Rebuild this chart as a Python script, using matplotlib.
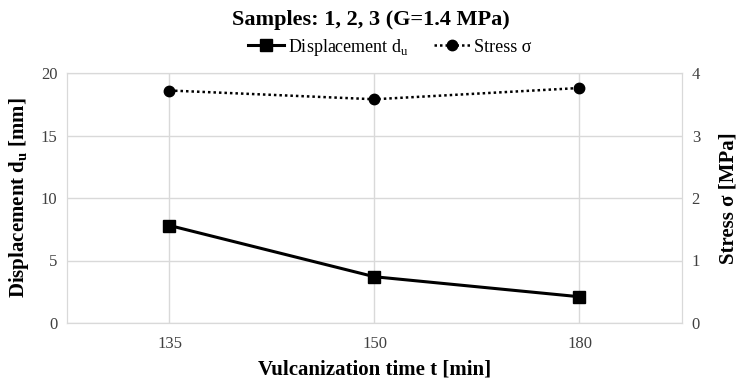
import matplotlib.pyplot as plt

# data
times = ['135', '150', '180']
displacement = [7.8, 3.7, 2.1]
stress = [3.72, 3.58, 3.76]

plt.rcParams['font.family'] = ['Liberation Serif', 'DejaVu Serif']
plt.rcParams['mathtext.fontset'] = 'custom'
plt.rcParams['mathtext.rm'] = 'Liberation Serif'
plt.rcParams['mathtext.bf'] = 'Liberation Serif:bold'

fig = plt.figure(figsize=(7.42, 3.81), dpi=100)
ax = fig.add_axes([67 / 742, 1 - 323 / 381, 615 / 742, 250 / 381])
ax2 = ax.twinx()

x = range(len(times))
l1, = ax.plot(x, displacement, color='black', lw=2.2, marker='s', ms=8,
              label=r'Displacement d$_{\mathrm{u}}$', zorder=3)
l2, = ax2.plot(x, stress, color='black', lw=1.8, ls=(0, (1, 1.2)), marker='o',
               ms=7.5, label='Stress σ', zorder=3)

ax.set_xlim(-0.5, 2.5)
ax.set_ylim(0, 20)
ax.set_yticks([0, 5, 10, 15, 20])
ax2.set_ylim(0, 4)
ax2.set_yticks([0, 1, 2, 3, 4])
ax.set_xticks(list(x))
ax.set_xticklabels(times)

ax.grid(True, color='#d9d9d9', lw=1)
ax.set_axisbelow(True)
for a in (ax, ax2):
    for s in a.spines.values():
        s.set_color('#d9d9d9')
    a.tick_params(length=0, labelsize=12, colors='#404040', pad=7)
ax.tick_params(axis='x', pad=9)

ax.set_xlabel('Vulcanization time t [min]', fontsize=15, fontweight='bold', labelpad=6)
ax.set_ylabel(r'Displacement d$_{\mathbf{u}}$ [mm]', fontsize=15, fontweight='bold', labelpad=7)
ax2.set_ylabel('Stress σ [MPa]', fontsize=15, fontweight='bold', labelpad=13)

fig.suptitle('Samples: 1, 2, 3 (G=1.4 MPa)', fontsize=16, fontweight='bold',
             y=1 - 20 / 381, va='center')
fig.legend(handles=[l1, l2], loc='center', bbox_to_anchor=(0.525, 1 - 47 / 381), ncol=2,
           frameon=False, fontsize=13, handlelength=2.0, columnspacing=1.4,
           handletextpad=0.2)

fig.savefig('out.png', dpi=100)
